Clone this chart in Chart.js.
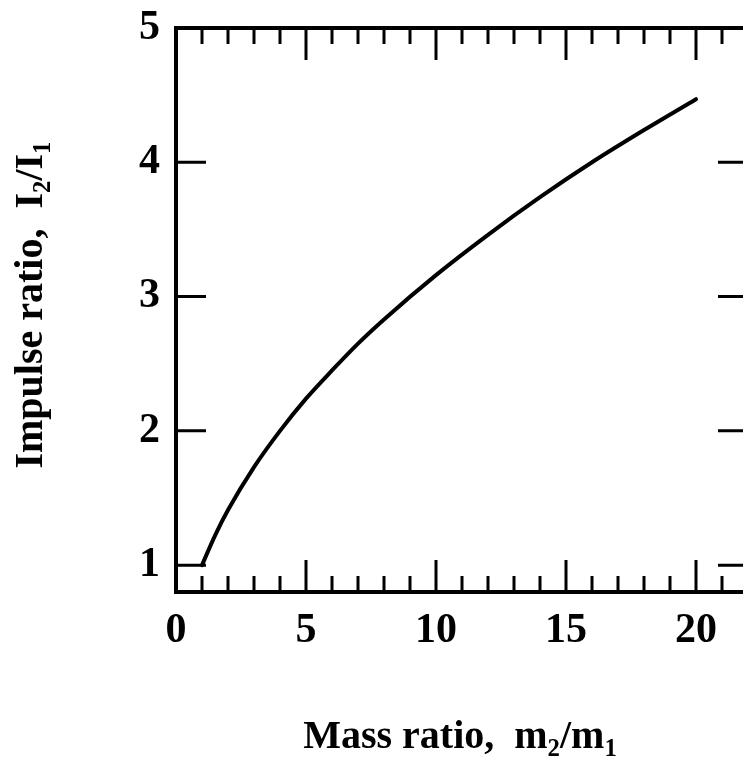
<!DOCTYPE html>
<html>
<head>
<meta charset="utf-8">
<script src="https://cdn.jsdelivr.net/npm/chart.js@4"></script>
<style>
  html, body { margin: 0; padding: 0; background: #fff; overflow: hidden; }
  #wrap { position: relative; width: 800px; height: 763px; }
</style>
</head>
<body>
<div id="wrap"><canvas id="impulseChart" width="800" height="763"></canvas></div>
<script>
// Values
const massRatio = [1, 1.5, 2, 3, 4, 5, 6, 7, 8, 10, 12, 14, 16, 18, 20];
const impulseRatio = [1.00, 1.22, 1.41, 1.73, 2.00, 2.24, 2.45, 2.65, 2.83, 3.16, 3.46, 3.74, 4.00, 4.24, 4.47];

const xTickValues = [0, 1, 2, 3, 4, 5, 6, 7, 8, 9, 10, 11, 12, 13, 14, 15, 16, 17, 18, 19, 20, 21, 22];
const xLabelValues = [0, 5, 10, 15, 20];
const yTickValues = [1, 2, 3, 4, 5];

const serif = '"Liberation Serif", "Times New Roman", serif';

// inward tick marks + frame, like the printed figure
const frameTicks = {
  id: 'frameTicks',
  afterDraw(chart) {
    const ctx = chart.ctx;
    const area = chart.chartArea;
    const xs = chart.scales.x;
    const ys = chart.scales.y;
    ctx.save();
    ctx.strokeStyle = '#000';
    ctx.lineCap = 'butt';

    ctx.lineWidth = 3;
    xTickValues.forEach(v => {
      const px = xs.getPixelForValue(v);
      const len = xLabelValues.includes(v) ? 32 : 16;
      ctx.beginPath();
      ctx.moveTo(px, area.top);
      ctx.lineTo(px, area.top + len);
      ctx.moveTo(px, area.bottom);
      ctx.lineTo(px, area.bottom - len);
      ctx.stroke();
    });
    yTickValues.forEach(v => {
      const py = ys.getPixelForValue(v);
      ctx.beginPath();
      ctx.moveTo(area.left, py);
      ctx.lineTo(area.left + 30, py);
      ctx.moveTo(area.right, py);
      ctx.lineTo(area.right - 30, py);
      ctx.stroke();
    });

    ctx.lineWidth = 4;
    ctx.strokeRect(area.left, area.top, area.right - area.left, area.bottom - area.top);
    ctx.restore();
  }
};

// axis titles with real subscripts
function drawRich(ctx, parts, x, y, size) {
  let total = 0;
  parts.forEach(p => {
    ctx.font = 'bold ' + (p.sub ? size * 0.62 : size) + 'px ' + serif;
    p.w = ctx.measureText(p.t).width;
    total += p.w;
  });
  let cx = x - total / 2;
  parts.forEach(p => {
    ctx.font = 'bold ' + (p.sub ? size * 0.62 : size) + 'px ' + serif;
    ctx.fillText(p.t, cx, p.sub ? y + size * 0.2 : y);
    cx += p.w;
  });
}

const axisTitles = {
  id: 'axisTitles',
  afterDraw(chart) {
    const ctx = chart.ctx;
    const area = chart.chartArea;
    ctx.save();
    ctx.fillStyle = '#000';
    ctx.textBaseline = 'alphabetic';
    ctx.textAlign = 'left';
    drawRich(ctx, [
      { t: 'Mass ratio,  m' }, { t: '2', sub: true }, { t: '/m' }, { t: '1', sub: true }
    ], area.left + 284, 748, 40);

    ctx.translate(42, 305);
    ctx.rotate(-Math.PI / 2);
    drawRich(ctx, [
      { t: 'Impulse ratio,  I' }, { t: '2', sub: true }, { t: '/I' }, { t: '1', sub: true }
    ], 0, 0, 40);
    ctx.restore();
  }
};

new Chart(document.getElementById('impulseChart'), {
  type: 'line',
  data: {
    datasets: [{
      data: massRatio.map((m, i) => ({ x: m, y: impulseRatio[i] })),
      borderColor: '#000',
      borderWidth: 4,
      pointRadius: 0,
      fill: false,
      cubicInterpolationMode: 'monotone',
      borderCapStyle: 'round'
    }]
  },
  options: {
    responsive: false,
    animation: false,
    layout: {
      autoPadding: false,
      padding: { top: 28, right: 52, left: 0, bottom: 0 }
    },
    plugins: {
      legend: { display: false },
      tooltip: { enabled: false }
    },
    scales: {
      x: {
        type: 'linear',
        min: 0,
        max: 22,
        afterBuildTicks: scale => { scale.ticks = xTickValues.map(v => ({ value: v })); },
        afterFit: scale => {
          scale.height = 171;
          scale.paddingLeft = 0;
          scale.paddingRight = 0;
        },
        grid: { display: false, drawTicks: false },
        border: { display: false },
        ticks: {
          autoSkip: false,
          maxRotation: 0,
          padding: 14,
          color: '#000',
          font: { family: serif, size: 42, weight: 'bold' },
          callback: v => xLabelValues.includes(v) ? String(v) : ''
        }
      },
      y: {
        type: 'linear',
        min: 0.8,
        max: 5,
        afterBuildTicks: scale => { scale.ticks = yTickValues.map(v => ({ value: v })); },
        afterFit: scale => {
          scale.width = 176;
          scale.paddingTop = 0;
          scale.paddingBottom = 0;
        },
        grid: { display: false, drawTicks: false },
        border: { display: false },
        ticks: {
          padding: 16,
          color: '#000',
          font: { family: serif, size: 42, weight: 'bold' }
        }
      }
    }
  },
  plugins: [frameTicks, axisTitles]
});
</script>
</body>
</html>
